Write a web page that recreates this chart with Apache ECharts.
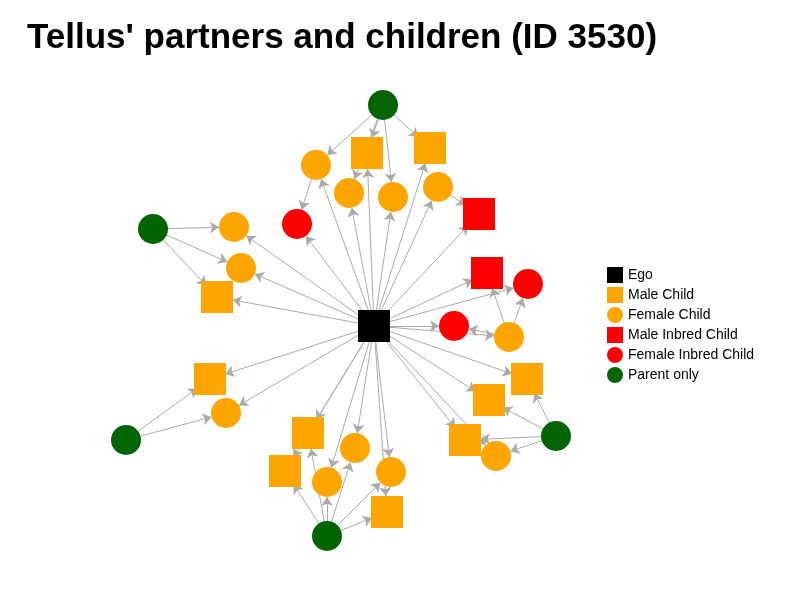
<!DOCTYPE html>
<html>
<head><meta charset="utf-8"></head>
<body style="margin:0">
<div id="main" style="width:800px;height:600px;"></div>
<script src="https://cdn.jsdelivr.net/npm/echarts@6/dist/echarts.min.js"></script>
<script>
// node: name, type, x, y (layout positions)
var nodeNames = ['Ego','P1','P2','P3','P4','P5',
  'c1','c2','c3','c4','c5','c6','i1','i2',
  'c7','c8','c9','c10','c11',
  'c12','c13','c14','c15','c16','c17',
  'i3','i4','i5','c18','c19','c20','c21','c22'];
var nodeTypes = ['Ego','Parent only','Parent only','Parent only','Parent only','Parent only',
  'Female Child','Male Child','Male Child','Female Child','Female Child','Female Child','Male Inbred Child','Female Inbred Child',
  'Female Child','Female Child','Male Child','Male Child','Female Child',
  'Male Child','Female Child','Male Child','Female Child','Female Child','Male Child',
  'Male Inbred Child','Female Inbred Child','Female Inbred Child','Female Child','Male Child','Male Child','Male Child','Female Child'];
var nodeX = [374,383,153,126,327,556, 316,367,430,349,393,438,479,297, 234,241,217,210,226, 308,355,285,327,391,387, 487,528,454,509,527,489,465,496];
var nodeY = [326,105,229,440,536,436, 165,153,148,193,197,187,214,224, 227,268,297,379,413, 433,448,471,482,472,512, 273,284,326,337,379,400,440,456];
var parentEdges = [
  ['P1','c1'],['P1','c2'],['P1','c3'],['P1','c4'],['P1','c5'],
  ['c6','i1'],['c1','i2'],
  ['P2','c7'],['P2','c8'],['P2','c9'],
  ['P3','c10'],['P3','c11'],
  ['P4','c12'],['P4','c13'],['P4','c14'],['P4','c15'],['P4','c16'],['P4','c17'],
  ['c18','i3'],['c18','i4'],['c18','i5'],
  ['P5','c19'],['P5','c20'],['P5','c21'],['P5','c22']
];

var typeNames = ['Ego','Male Child','Female Child','Male Inbred Child','Female Inbred Child','Parent only'];
var typeColors = ['#000000','#FFA500','#FFA500','#FF0000','#FF0000','#006400'];
var typeSymbols = ['rect','rect','circle','rect','circle','circle'];

var nodes = nodeNames.map(function (n, i) {
  var t = typeNames.indexOf(nodeTypes[i]);
  return {name: n, x: nodeX[i], y: nodeY[i], category: t,
    symbol: typeSymbols[t], symbolSize: typeSymbols[t] === 'rect' ? 32 : 30};
});
var links = [];
nodeNames.forEach(function (n, i) {
  if (i > 0 && nodeTypes[i] !== 'Parent only') links.push({source: 'Ego', target: n});
});
parentEdges.forEach(function (e) { links.push({source: e[0], target: e[1]}); });

var myChart = echarts.init(document.getElementById('main'));
myChart.setOption({
  title: {
    text: "Tellus' partners and children (ID 3530)",
    left: 22, top: 16,
    textStyle: {fontFamily: 'Liberation Sans', fontSize: 35, fontWeight: 'bold', color: '#000'}
  },
  legend: {
    orient: 'vertical', left: 602, top: 262, itemGap: 4,
    itemWidth: 16, itemHeight: 16,
    textStyle: {fontFamily: 'Liberation Sans', fontSize: 14, color: '#000'},
    data: typeNames.map(function (t, i) { return {name: t, icon: typeSymbols[i]}; })
  },
  series: [{
    type: 'graph',
    layout: 'none',
    left: 126, top: 105, width: 430, height: 431,
    categories: typeNames.map(function (t, i) {
      return {name: t, symbol: typeSymbols[i], itemStyle: {color: typeColors[i]}};
    }),
    data: nodes,
    links: links,
    edgeSymbol: ['none', 'arrow'],
    edgeSymbolSize: 9,
    lineStyle: {color: '#aaaaaa', width: 1, opacity: 1},
    label: {show: false},
    z: 2
  }]
});
</script>
</body>
</html>
